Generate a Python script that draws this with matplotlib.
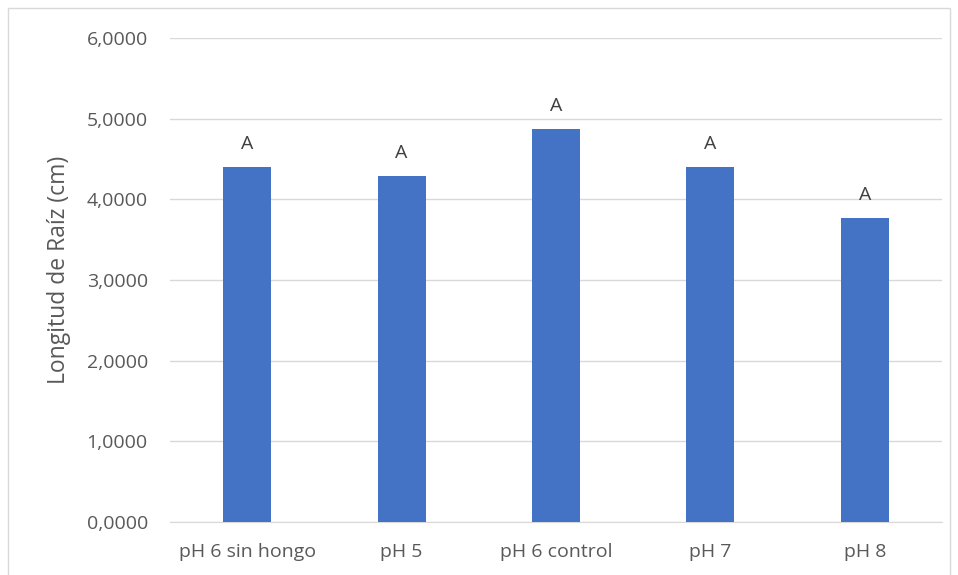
import matplotlib.pyplot as plt
from matplotlib.patches import Rectangle

categories = ['pH 6 sin hongo', 'pH 5', 'pH 6 control', 'pH 7', 'pH 8']
longitud = [4.40, 4.29, 4.87, 4.40, 3.77]
letras = ['A', 'A', 'A', 'A', 'A']
yticks = [0, 1, 2, 3, 4, 5, 6]

plt.rcParams['font.family'] = ['Open Sans', 'DejaVu Sans']

fig = plt.figure(figsize=(9.58, 5.75), dpi=100)
ax = fig.add_axes([170 / 958, 1 - 522 / 575, 772 / 958, 484 / 575])

x = range(len(categories))
ax.bar(x, longitud, width=0.31, color='#4472C4', zorder=3)

for i, (v, t) in enumerate(zip(longitud, letras)):
    ax.annotate(t, (i, v), xytext=(0, 10), textcoords='offset points',
                ha='center', va='bottom', fontsize=14, color='#404040')

ax.set_xlim(-0.5, len(categories) - 0.5)
ax.set_ylim(0, 6)
ax.set_yticks(yticks)
ax.set_yticklabels(['{:.4f}'.format(t).replace('.', ',') for t in yticks])
ax.set_xticks(list(x))
ax.set_xticklabels(categories)
ax.tick_params(axis='both', length=0, labelsize=14, labelcolor='#595959')
ax.tick_params(axis='y', pad=16)
ax.tick_params(axis='x', pad=15)
ax.grid(axis='y', color='#d9d9d9', linewidth=1, zorder=0)
for s in ['top', 'right', 'left']:
    ax.spines[s].set_visible(False)
ax.spines['bottom'].set_color('#d9d9d9')
ax.set_ylabel('Longitud de Raíz (cm)', fontsize=16.5, color='#595959')
ax.yaxis.set_label_coords(-0.128, 0.52)

fig.patches.append(Rectangle((8 / 958, -0.01), 942 / 958, 1 - 8 / 575 + 0.01,
                             transform=fig.transFigure, fill=False,
                             edgecolor='#d9d9d9', linewidth=1))

plt.savefig('out.png', dpi=100)
